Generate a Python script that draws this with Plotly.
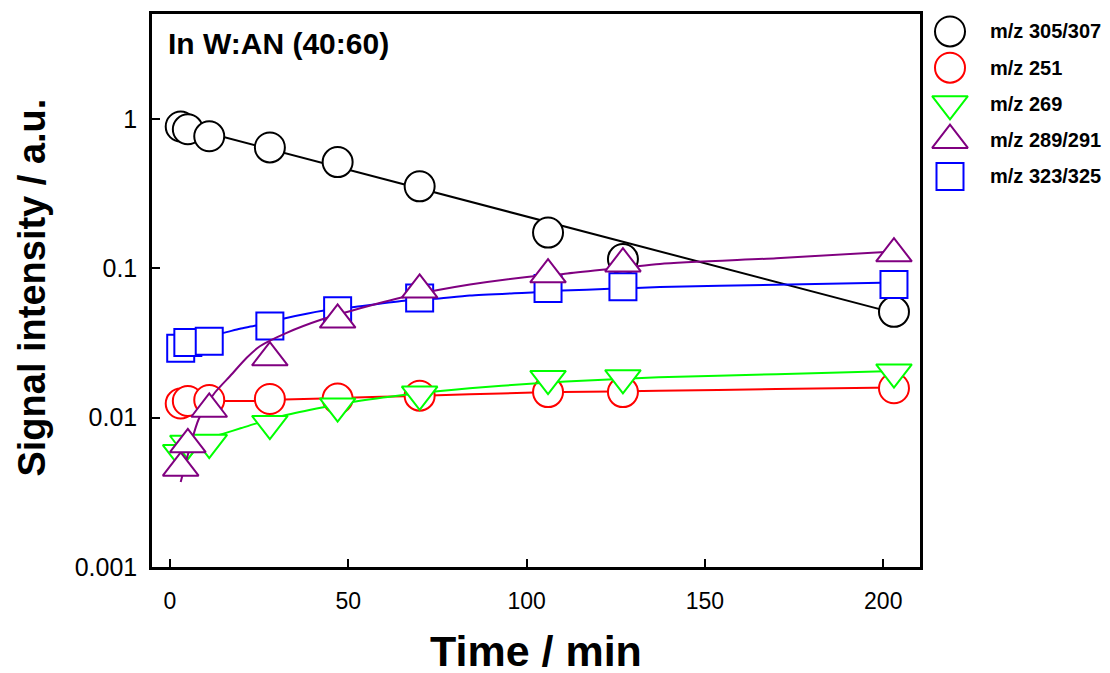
import plotly.graph_objects as go

# ---------------- data ----------------
time_min = [3, 5, 11, 28, 47, 70, 106, 127, 203]

mz_305_307 = [0.888, 0.851, 0.764, 0.643, 0.513, 0.353, 0.173, 0.115, 0.051]
mz_251 = [0.0124, 0.0129, 0.0131, 0.0133, 0.0134, 0.0140, 0.0148, 0.0148, 0.0157]
mz_269 = [0.0058, 0.0067, 0.0068, 0.0091, 0.0119, 0.0143, 0.0182, 0.0184, 0.0201]
mz_289_291 = [0.0046, 0.0066, 0.0114, 0.0252, 0.0451, 0.0716, 0.0906, 0.1071, 0.1252]
mz_323_325 = [0.0291, 0.0318, 0.0324, 0.0410, 0.0518, 0.0631, 0.0732, 0.0751, 0.0776]

# fitted curves
fit_305_t = [3, 203]
fit_305 = [0.899, 0.0502]

fit_251_t = [3, 15, 24, 32, 43, 52, 66, 84, 102, 110, 137, 170, 203]
fit_251 = [0.0126, 0.0129, 0.0129, 0.0132, 0.0134, 0.0136, 0.0139, 0.0143,
           0.0147, 0.0148, 0.0151, 0.0155, 0.0159]

fit_269_t = [3, 11, 15, 20, 24, 32, 43, 52, 66, 75, 84, 102, 111, 137, 170, 203]
fit_269 = [0.0064, 0.0073, 0.0078, 0.0085, 0.0091, 0.0103, 0.0117, 0.0128,
           0.0142, 0.0150, 0.0157, 0.0169, 0.0174, 0.0186, 0.0195, 0.0205]

fit_289_t = [3, 8, 12.6, 16.8, 21.5, 25.2, 32.7, 42.5, 51.4, 65.9, 84.1,
             101.9, 110.3, 137.4, 170, 203]
fit_289 = [0.0037, 0.0097, 0.0147, 0.0189, 0.0251, 0.0300, 0.0369, 0.0453,
           0.0523, 0.0643, 0.0776, 0.0882, 0.0915, 0.1068, 0.1165, 0.1295]

fit_323_t = [3, 15, 19.6, 24.1, 32, 43.2, 51.1, 66.2, 74, 84.1, 102.3, 110.1,
             123.4, 137.4, 170, 203]
fit_323 = [0.0318, 0.0369, 0.0393, 0.0413, 0.0460, 0.0520, 0.0547, 0.0607,
           0.0623, 0.0655, 0.0690, 0.0708, 0.0727, 0.0747, 0.0775, 0.0801]

series_names = ["m/z 305/307", "m/z 251", "m/z 269", "m/z 289/291", "m/z 323/325"]
x_ticks = [0, 50, 100, 150, 200]
y_ticks = [0.001, 0.01, 0.1, 1]
y_tick_text = ["0.001", "0.01", "0.1", "1"]

# ---------------- styling ----------------
FONT = "Liberation Sans, Arial, sans-serif"
W, H = 1110, 673          # design space (target picture)
H_LAYOUT = 686            # layout height
styles = {
    "m/z 305/307": dict(color="#000000", symbol="circle", size=30),
    "m/z 251": dict(color="#FF0000", symbol="circle", size=30),
    "m/z 269": dict(color="#00FF00", symbol="triangle-down", size=31),
    "m/z 289/291": dict(color="#800080", symbol="triangle-up", size=31),
    "m/z 323/325": dict(color="#0000FF", symbol="square", size=27),
}

data_map = {
    "m/z 305/307": (mz_305_307, fit_305_t, fit_305, "linear"),
    "m/z 251": (mz_251, fit_251_t, fit_251, "spline"),
    "m/z 269": (mz_269, fit_269_t, fit_269, "spline"),
    "m/z 289/291": (mz_289_291, fit_289_t, fit_289, "spline"),
    "m/z 323/325": (mz_323_325, fit_323_t, fit_323, "spline"),
}

draw_order = ["m/z 305/307", "m/z 251", "m/z 269", "m/z 323/325", "m/z 289/291"]

fig = go.Figure()
for name in draw_order:
    vals, ft, fv, shape = data_map[name]
    st = styles[name]
    fig.add_trace(go.Scatter(
        x=ft, y=fv, mode="lines", showlegend=False,
        line=dict(color=st["color"], width=2, shape=shape, smoothing=0.6),
        xaxis="x", yaxis="y"))
    fig.add_trace(go.Scatter(
        x=time_min, y=vals, mode="markers", name=name, showlegend=False,
        marker=dict(symbol=st["symbol"], size=st["size"], color="white",
                    line=dict(color=st["color"], width=2)),
        xaxis="x", yaxis="y"))

# custom legend (design-pixel coordinates on an overlay axis)
leg_x_marker = 950
leg_x_text = 988
leg_y0 = 31.5
leg_dy = 36.3
annotations = []
for i, name in enumerate(series_names):
    st = styles[name]
    yy = leg_y0 + i * leg_dy
    fig.add_trace(go.Scatter(
        x=[leg_x_marker], y=[yy], mode="markers", showlegend=False,
        marker=dict(symbol=st["symbol"], size=st["size"], color="white",
                    line=dict(color=st["color"], width=2)),
        xaxis="x2", yaxis="y2", cliponaxis=False))
    annotations.append(dict(
        x=leg_x_text, y=yy, xref="x2", yref="y2", text=name, showarrow=False,
        xanchor="left", yanchor="middle",
        font=dict(family=FONT, size=20, color="black", weight="bold")))

annotations += [
    dict(x=166, y=44, xref="x2", yref="y2", text="In W:AN (40:60)",
         showarrow=False, xanchor="left", yanchor="middle",
         font=dict(family=FONT, size=30, color="black", weight="bold")),
    dict(x=536, y=652, xref="x2", yref="y2", text="Time / min",
         showarrow=False, xanchor="center", yanchor="middle",
         font=dict(family=FONT, size=43, color="black", weight="bold")),
    dict(x=32, y=288, xref="x2", yref="y2", text="Signal intensity / a.u.",
         showarrow=False, xanchor="center", yanchor="middle", textangle=-90,
         font=dict(family=FONT, size=38, color="black", weight="bold")),
]

x0, x1 = 152, 920
y_top, y_bot = 14, 567.7

fig.update_layout(
    width=W, height=H_LAYOUT, autosize=False,
    margin=dict(l=0, r=0, t=0, b=0, pad=0),
    paper_bgcolor="white", plot_bgcolor="rgba(0,0,0,0)",
    showlegend=False,
    font=dict(family=FONT, color="black"),
    xaxis=dict(
        domain=[x0 / W, x1 / W], range=[-5.05, 210.3], anchor="y",
        tickvals=x_ticks, ticktext=[str(v) for v in x_ticks],
        ticks="inside", ticklen=8, tickwidth=2, tickcolor="black",
        showline=True, linewidth=2.5, linecolor="black", mirror=True,
        showgrid=False, zeroline=False, ticklabelstandoff=12,
        tickfont=dict(family=FONT, size=23, color="black"),
    ),
    yaxis=dict(
        domain=[1 - y_bot / H, 1 - y_top / H], type="log", range=[-3.0, 0.702],
        anchor="x",
        tickvals=y_ticks, ticktext=y_tick_text,
        ticks="inside", ticklen=8, tickwidth=2, tickcolor="black",
        showline=True, linewidth=2.5, linecolor="black", mirror=True,
        showgrid=False, zeroline=False, ticklabelstandoff=7,
        tickfont=dict(family=FONT, size=25, color="black"),
    ),
    xaxis2=dict(domain=[0, 1], range=[0, W], anchor="y2", visible=False,
                fixedrange=True),
    yaxis2=dict(domain=[0, 1], range=[H, 0], anchor="x2", visible=False,
                fixedrange=True),
    annotations=annotations,
)

fig.write_html("out.html", config={"responsive": False})
